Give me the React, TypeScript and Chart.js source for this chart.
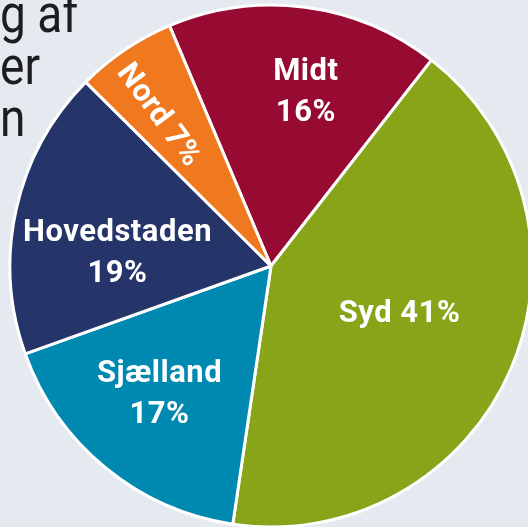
import React, { useEffect, useRef } from "react";
import { Chart, registerables } from "chart.js";

Chart.register(...registerables);

const regions = ["Midt", "Syd", "Sjælland", "Hovedstaden", "Nord"];
const shares = [16.9, 41.8, 17.2, 17.9, 6.2];
// percentages as printed on the labels
const shownPercent = [16, 41, 17, 19, 7];
const sliceColors = ["#970a31", "#88a418", "#0089b0", "#253469", "#f0781e"];
const backgroundLines = ["g af", "er", "n"];

// label layout per slice: angle shift (deg), radius fraction, two lines?, radial rotation?
const labelLayout = [
  { shift: 3.8, rf: 0.68, split: true, radial: false },
  { shift: -2.9, rf: 0.525, split: false, radial: false },
  { shift: 1.7, rf: 0.65, split: true, radial: false },
  { shift: -7.8, rf: 0.59, split: true, radial: false },
  { shift: -2.5, rf: 0.72, split: false, radial: true },
];

const FONT = "Roboto, 'DejaVu Sans', sans-serif";

const bgTextPlugin = {
  id: "bgText",
  beforeDraw(chart: any) {
    const ctx = chart.ctx;
    ctx.save();
    ctx.fillStyle = "#1d1d1f";
    ctx.font = `400 46px ${FONT}`;
    ctx.textAlign = "left";
    ctx.textBaseline = "alphabetic";
    backgroundLines.forEach((t, i) => {
      ctx.save();
      ctx.translate(0, 32 + i * 52);
      ctx.scale(1, 1.12);
      ctx.fillText(t, 0, 0);
      ctx.restore();
    });
    ctx.restore();
  },
};

const labelPlugin = {
  id: "sliceLabels",
  afterDatasetsDraw(chart: any) {
    const ctx = chart.ctx;
    const meta = chart.getDatasetMeta(0);
    meta.data.forEach((arc: any, i: number) => {
      const lay = labelLayout[i];
      const mid = (arc.startAngle + arc.endAngle) / 2 + (lay.shift * Math.PI) / 180;
      const r = arc.outerRadius * lay.rf;
      const x = arc.x + Math.cos(mid) * r;
      const y = arc.y + Math.sin(mid) * r;
      ctx.save();
      ctx.translate(x, y);
      if (lay.radial) ctx.rotate(mid + Math.PI);
      ctx.fillStyle = "#ffffff";
      ctx.font = `700 31px ${FONT}`;
      (ctx as any).letterSpacing = "0.5px";
      ctx.textAlign = "center";
      ctx.textBaseline = "middle";
      const pct = `${shownPercent[i]}%`;
      if (lay.split) {
        ctx.fillText(regions[i], 0, -20);
        ctx.fillText(pct, 0, 21);
      } else {
        ctx.fillText(`${regions[i]} ${pct}`, 0, 1);
      }
      ctx.restore();
    });
  },
};

export default function App() {
  const ref = useRef<HTMLCanvasElement>(null);
  useEffect(() => {
    if (!ref.current) return;
    const chart = new Chart(ref.current, {
      type: "pie",
      data: {
        labels: regions,
        datasets: [
          {
            data: shares,
            backgroundColor: sliceColors,
            borderColor: "#ffffff",
            borderWidth: 3,
            hoverOffset: 0,
          },
        ],
      },
      options: {
        responsive: false,
        animation: false,
        rotation: -22.9,
        radius: 261,
        layout: { padding: { left: 14, top: 5, right: 0, bottom: 0 } },
        plugins: {
          legend: { display: false },
          tooltip: { enabled: false },
        },
      } as any,
      plugins: [bgTextPlugin, labelPlugin],
    });
    return () => chart.destroy();
  }, []);
  return (
    <div
      style={{
        position: "fixed",
        left: 0,
        top: 0,
        width: 528,
        height: 527,
        background: "#e5e9f0",
        overflow: "hidden",
      }}
    >
      <canvas ref={ref} width={528} height={527} style={{ display: "block" }} />
    </div>
  );
}
